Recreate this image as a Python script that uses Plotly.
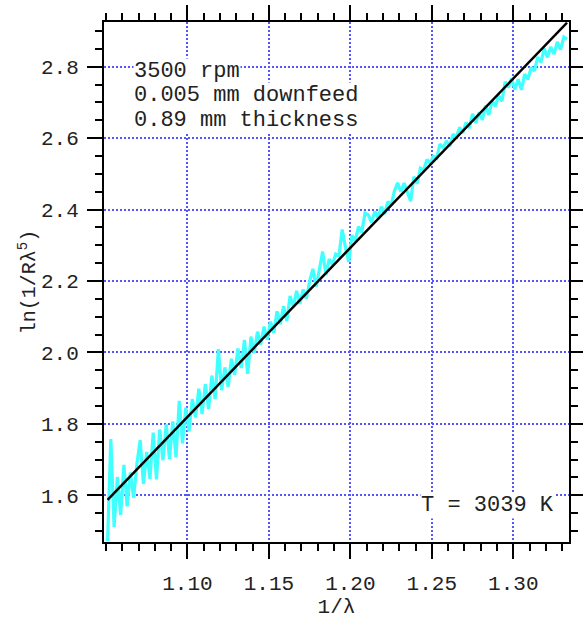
import plotly.graph_objects as go

# ---- data ----
inv_lambda = [
    1.051, 1.053, 1.055, 1.057, 1.059, 1.061, 1.063, 1.065, 1.067, 1.069,
    1.071, 1.073, 1.075, 1.077, 1.079, 1.081, 1.083, 1.085, 1.087, 1.089,
    1.091, 1.093, 1.095, 1.097, 1.099, 1.101, 1.103, 1.105, 1.107, 1.109,
    1.111, 1.113, 1.115, 1.117, 1.119, 1.121, 1.123, 1.125, 1.127, 1.129,
    1.131, 1.133, 1.135, 1.137, 1.139, 1.141, 1.143, 1.145, 1.147, 1.149,
    1.151, 1.153, 1.155, 1.157, 1.159, 1.161, 1.163, 1.165, 1.167, 1.169,
    1.171, 1.173, 1.175, 1.177, 1.179, 1.181, 1.183, 1.185, 1.187, 1.189,
    1.191, 1.193, 1.195, 1.197, 1.199, 1.201, 1.203, 1.205, 1.207, 1.209,
    1.211, 1.213, 1.215, 1.217, 1.219, 1.221, 1.223, 1.225, 1.227, 1.229,
    1.231, 1.233, 1.235, 1.237, 1.239, 1.241, 1.243, 1.245, 1.247, 1.249,
    1.251, 1.253, 1.255, 1.257, 1.259, 1.261, 1.263, 1.265, 1.267, 1.269,
    1.271, 1.273, 1.275, 1.277, 1.279, 1.281, 1.283, 1.285, 1.287, 1.289,
    1.291, 1.293, 1.295, 1.297, 1.299, 1.301, 1.303, 1.305, 1.307, 1.309,
    1.311, 1.313, 1.315, 1.317, 1.319, 1.321, 1.323, 1.325, 1.327, 1.329,
    1.331, 1.333,
]

ln_signal = [
    1.472, 1.757, 1.511, 1.651, 1.545, 1.685, 1.569, 1.664, 1.593, 1.688,
    1.754, 1.632, 1.721, 1.646, 1.775, 1.644, 1.784, 1.698, 1.798, 1.702,
    1.807, 1.706, 1.864, 1.745, 1.845, 1.779, 1.869, 1.818, 1.898, 1.827,
    1.911, 1.841, 1.935, 1.870, 2.009, 1.894, 1.958, 1.903, 1.982, 1.937,
    2.011, 1.956, 2.035, 1.940, 2.044, 1.998, 2.058, 2.022, 2.072, 2.036,
    2.086, 2.055, 2.115, 2.079, 2.129, 2.088, 2.158, 2.127, 2.172, 2.136,
    2.176, 2.150, 2.199, 2.234, 2.183, 2.228, 2.282, 2.217, 2.261, 2.246,
    2.275, 2.270, 2.344, 2.294, 2.253, 2.328, 2.312, 2.352, 2.336, 2.390,
    2.385, 2.364, 2.394, 2.378, 2.408, 2.387, 2.422, 2.411, 2.451, 2.475,
    2.450, 2.474, 2.448, 2.423, 2.492, 2.472, 2.516, 2.511, 2.540, 2.530,
    2.549, 2.544, 2.583, 2.573, 2.592, 2.577, 2.611, 2.601, 2.630, 2.614,
    2.644, 2.628, 2.668, 2.642, 2.672, 2.651, 2.691, 2.665, 2.705, 2.689,
    2.719, 2.703, 2.758, 2.742, 2.767, 2.736, 2.765, 2.735, 2.779, 2.764,
    2.798, 2.788, 2.827, 2.812, 2.851, 2.826, 2.855, 2.835, 2.869, 2.848,
    2.883, 2.877,
]

fit_x = [1.051, 1.333]
fit_y = [1.587, 2.923]

x_ticks = [1.10, 1.15, 1.20, 1.25, 1.30]
x_tick_labels = ["1.10", "1.15", "1.20", "1.25", "1.30"]
y_ticks = [1.6, 1.8, 2.0, 2.2, 2.4, 2.6, 2.8]
y_tick_labels = ["1.6", "1.8", "2.0", "2.2", "2.4", "2.6", "2.8"]

info_lines = ["3500 rpm", "0.005 mm downfeed", "0.89 mm thickness"]
temp_label = "T = 3039 K"

FONT = "Liberation Mono, Courier New, monospace"
GRID = "rgb(85,85,255)"

fig = go.Figure()
fig.add_trace(go.Scatter(x=inv_lambda, y=ln_signal, mode="lines",
                         line=dict(color="rgb(64,255,255)", width=3.2),
                         showlegend=False, hoverinfo="skip"))
fig.add_trace(go.Scatter(x=fit_x, y=fit_y, mode="lines",
                         line=dict(color="black", width=2.5),
                         showlegend=False, hoverinfo="skip"))

axis_common = dict(
    showline=True, linecolor="black", linewidth=2, mirror="ticks",
    ticks="outside", ticklen=15, tickwidth=2, tickcolor="black",
    showgrid=True, gridcolor=GRID, gridwidth=2, griddash="2px,2px",
    zeroline=False, automargin=False,
    tickfont=dict(family=FONT, size=21, color="#222"),
)

fig.update_xaxes(
    range=[1.0488, 1.3342], tickvals=x_ticks, ticktext=x_tick_labels,
    minor=dict(dtick=0.01, tick0=1.10, ticks="outside", ticklen=7,
               tickwidth=2, tickcolor="black", showgrid=False),
    ticklabelstandoff=6,
    title=dict(text="1/λ", font=dict(family=FONT, size=21, color="#222"),
               standoff=2),
    **axis_common,
)
fig.update_yaxes(
    range=[1.469, 2.925], tickvals=y_ticks, ticktext=y_tick_labels,
    minor=dict(dtick=0.05, tick0=1.6, ticks="outside", ticklen=7,
               tickwidth=2, tickcolor="black", showgrid=False),
    ticklabelstandoff=4,
    title=dict(text="ln(1/Rλ<sup>5</sup>)",
               font=dict(family=FONT, size=20, color="#222"), standoff=0),
    **axis_common,
)

ann_font = dict(family=FONT, size=22, color="#222")
for txt, yv in zip(info_lines, [2.786, 2.719, 2.649]):
    fig.add_annotation(x=1.0664, y=yv, xref="x", yref="y", text=txt,
                       showarrow=False, xanchor="left", yanchor="middle",
                       font=ann_font, bgcolor="white", borderpad=0)
fig.add_annotation(x=1.2427, y=1.572, xref="x", yref="y", text=temp_label,
                   showarrow=False, xanchor="left", yanchor="middle",
                   font=ann_font, bgcolor="white", borderpad=0)

fig.update_layout(
    width=583, height=622, autosize=False,
    margin=dict(l=104, r=14, t=22, b=80),
    plot_bgcolor="white", paper_bgcolor="white",
)

fig.write_html("out.html")
